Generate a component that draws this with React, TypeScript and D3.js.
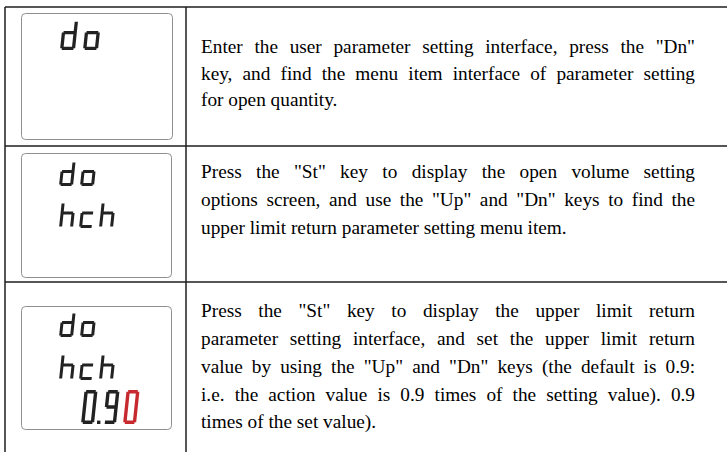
import React from "react";
import * as d3 from "d3";

// ---- data ----
const displayRows: string[][] = [["do"], ["do", "hch"], ["do", "hch", "0.90"]];
const redLastDigit: boolean[][] = [[false], [false, false], [false, false, true]];

const descRows: string[][] = [
  [
    'Enter the user parameter setting interface, press the "Dn"',
    "key, and find the menu item interface of parameter setting",
    "for open quantity.",
  ],
  [
    'Press the "St" key to display the open volume setting',
    'options screen, and use the "Up" and "Dn" keys to find the',
    "upper limit return parameter setting menu item.",
  ],
  [
    'Press the "St" key to display the upper limit return',
    "parameter setting interface, and set the upper limit return",
    'value by using the "Up" and "Dn" keys (the default is 0.9:',
    "i.e. the action value is 0.9 times of the setting value). 0.9",
    "times of the set value).",
  ],
];

// seven-segment maps
const SEGMENTS: Record<string, string> = {
  d: "bcdeg",
  o: "cdeg",
  h: "cefg",
  c: "deg",
  "0": "abcdef",
  "9": "abcdfg",
};

// ---- layout ----
const W = 727;
const H = 452;
const LEFT = 5;
const COL = 186;
const rowLines = [7, 146, 282];
const boxes = [
  { x: 21, y: 13, w: 151, h: 126 },
  { x: 21, y: 153, w: 150, h: 124 },
  { x: 21, y: 306, w: 150, h: 123 },
];
// per display line: left x, top y, glyph height, glyph width, pitch, stroke, mid ratio
const lineLayout = [
  [{ x: 60, top: 20, h: 30, w: 15, p: 23, t: 3.3, m: 0.42 }],
  [
    { x: 59, top: 161, h: 25, w: 14, p: 21, t: 3, m: 0.42 },
    { x: 59, top: 202, h: 26, w: 14, p: 20, t: 3, m: 0.42 },
  ],
  [
    { x: 59, top: 312, h: 25, w: 14, p: 21, t: 3, m: 0.42 },
    { x: 59, top: 354, h: 26, w: 14, p: 20, t: 3, m: 0.42 },
    { x: 81, top: 390, h: 34, w: 13, p: 20, t: 3.4, m: 0.5 },
  ],
];
const baselines = [
  [53, 79.5, 106],
  [178, 206, 234],
  [317, 345, 373, 401, 428],
];
const TX0 = 201;
const TX1 = 695;
const FS = 19.3;
const FONT_FAMILY = '"Liberation Serif", "Times New Roman", serif';
const SLANT = 6;
const TAN = Math.tan((SLANT * Math.PI) / 180);

let ctx: CanvasRenderingContext2D | null = null;
function measure(s: string): number {
  if (!ctx) {
    ctx = document.createElement("canvas").getContext("2d");
  }
  if (!ctx) return s.length * FS * 0.45;
  ctx.font = `${FS}px "Liberation Serif"`;
  return ctx.measureText(s).width;
}

function segPath(segs: string, w: number, h: number, t: number, m: number): string {
  const p = d3.path();
  const xL = t / 2;
  const xR = w - t / 2;
  const yT = t / 2;
  const yM = h * m;
  const yB = h - t / 2;
  const add = (x1: number, y1: number, x2: number, y2: number) => {
    p.moveTo(x1, y1);
    p.lineTo(x2, y2);
  };
  for (const s of segs) {
    if (s === "a") add(xL, yT, xR, yT);
    if (s === "b") add(xR, yT, xR, yM);
    if (s === "c") add(xR, yM, xR, yB);
    if (s === "d") add(xL, yB, xR, yB);
    if (s === "e") add(xL, yM, xL, yB);
    if (s === "f") add(xL, yT, xL, yM);
    if (s === "g") add(xL, yM, xR, yM);
  }
  return p.toString();
}

function LcdLine({ text, lay, red }: { text: string; lay: any; red: boolean }) {
  const items: React.ReactNode[] = [];
  let x = lay.x;
  const chars = text.split("");
  let lastDigitIdx = -1;
  chars.forEach((c, i) => {
    if (c !== ".") lastDigitIdx = i;
  });
  chars.forEach((c, i) => {
    const color = red && i === lastDigitIdx ? "#c62a2f" : "#222";
    if (c === ".") {
      items.push(
        <rect
          key={i}
          x={x - 4}
          y={lay.top + lay.h - lay.t}
          width={lay.t}
          height={lay.t}
          fill={color}
        />
      );
      x += 2;
      return;
    }
    items.push(
      <path
        key={i}
        d={segPath(SEGMENTS[c] || "", lay.w, lay.h, lay.t, lay.m)}
        transform={`translate(${x + lay.h * TAN},${lay.top}) skewX(${-SLANT})`}
        stroke={color}
        strokeWidth={lay.t}
        strokeLinecap="butt"
        fill="none"
      />
    );
    x += lay.p;
  });
  return <g>{items}</g>;
}

function Paragraph({ lines, ys }: { lines: string[]; ys: number[] }) {
  const spaceW = measure(" ");
  return (
    <g>
      {lines.map((line, li) => {
        const words = line.split(" ");
        const widths = words.map(measure);
        const total = d3.sum(widths);
        const justify = li < lines.length - 1 && words.length > 1;
        const gap = justify ? (TX1 - TX0 - total) / (words.length - 1) : spaceW;
        let x = TX0;
        const xs = widths.map((w) => {
          const cur = x;
          x += w + gap;
          return cur;
        });
        return (
          <text key={li} y={ys[li]} fontFamily={FONT_FAMILY} fontSize={FS} fill="#000">
            {words.map((w, wi) => (
              <tspan key={wi} x={xs[wi]}>
                {w}
              </tspan>
            ))}
          </text>
        );
      })}
    </g>
  );
}

export default function App() {
  return (
    <svg
      width={W}
      height={H}
      viewBox={`0 0 ${W} ${H}`}
      style={{ position: "absolute", left: 0, top: 0, background: "#fff" }}
    >
      <rect x={0} y={0} width={W} height={H} fill="#fff" />
      {rowLines.map((y, i) => (
        <line key={i} x1={LEFT} x2={W} y1={y} y2={y} stroke="#1e1e1e" strokeWidth={1.5} />
      ))}
      <line x1={LEFT} x2={LEFT} y1={rowLines[0]} y2={H} stroke="#1e1e1e" strokeWidth={1.5} />
      <line x1={COL} x2={COL} y1={rowLines[0]} y2={H} stroke="#1e1e1e" strokeWidth={1.5} />

      {boxes.map((b, i) => (
        <rect
          key={i}
          x={b.x + 0.5}
          y={b.y + 0.5}
          width={b.w}
          height={b.h}
          rx={4}
          fill="#fff"
          stroke="#8f8f8f"
          strokeWidth={1}
        />
      ))}

      {displayRows.map((row, ri) =>
        row.map((txt, li) => (
          <LcdLine key={`${ri}-${li}`} text={txt} lay={lineLayout[ri][li]} red={redLastDigit[ri][li]} />
        ))
      )}

      {descRows.map((lines, ri) => (
        <Paragraph key={ri} lines={lines} ys={baselines[ri]} />
      ))}
    </svg>
  );
}
